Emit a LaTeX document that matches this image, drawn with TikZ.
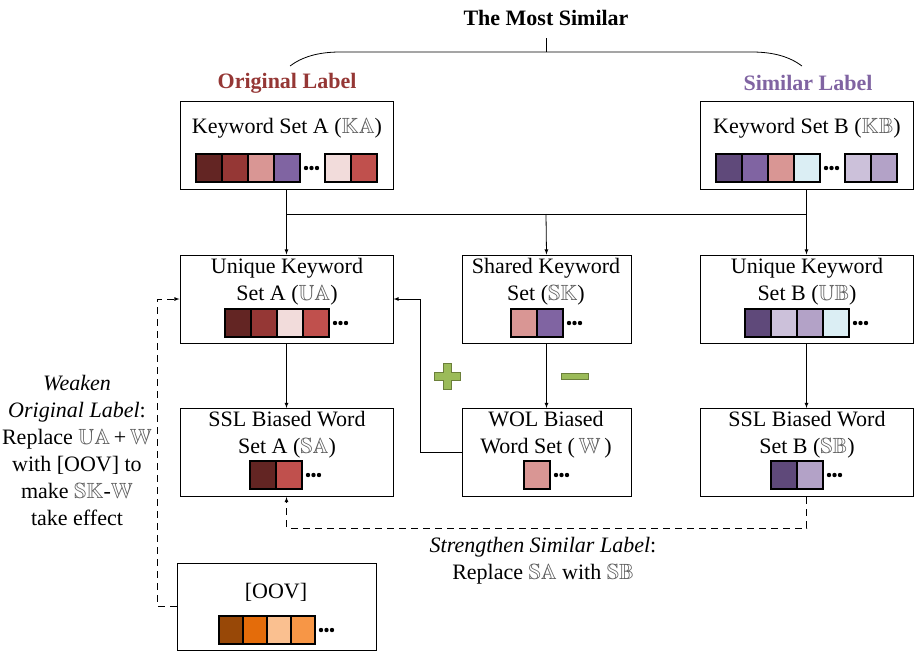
\documentclass[tikz,border=0pt]{standalone}
\usepackage{amssymb}
\usepackage{fontspec}
\setmainfont{Liberation Serif}
\usepackage{xcolor}
\usetikzlibrary{arrows}

\definecolor{redA}{HTML}{632523}
\definecolor{redB}{HTML}{953735}
\definecolor{redC}{HTML}{D99694}
\definecolor{redD}{HTML}{F2DCDB}
\definecolor{redE}{HTML}{C0504D}
\definecolor{purA}{HTML}{8064A2}
\definecolor{purB}{HTML}{CCC1DA}
\definecolor{purC}{HTML}{B3A2C7}
\definecolor{purD}{HTML}{5F497A}
\definecolor{blueA}{HTML}{DBEEF4}
\definecolor{orA}{HTML}{984807}
\definecolor{orB}{HTML}{E46C0A}
\definecolor{orC}{HTML}{FAC090}
\definecolor{orD}{HTML}{F79646}
\definecolor{greenP}{HTML}{9BBB59}
\definecolor{greenD}{HTML}{6B7F3A}

\newcommand{\bb}[1]{\textcolor{black!65}{$\mathbb{#1}$}}
% a row of coloured cells: [cell width]{x}{y top}{colours}
\newcommand{\cellrow}[4][26]{%
  \foreach \c [count=\i from 0] in {#4}
    \draw[cell, fill=\c] ({#2+\i*#1},#3) rectangle ++(#1,28);}
\newcommand{\moredots}[2]{%
  \foreach \k in {0,1,2}
    \fill ({#1+6+\k*5.5},{#2+14}) circle (2.2);}

\begin{document}
\begin{tikzpicture}[x=1pt,y=-1pt,>=latex,line width=0.8pt,
    font=\fontsize{22}{27}\selectfont,
    box/.style={draw,line width=1pt,minimum width=213pt,minimum height=88pt,inner sep=0},
    narrow/.style={box,minimum width=169pt},
    lbl/.style={align=center,inner sep=0},
    cell/.style={draw,line width=1.4pt},
    feedback/.style={->,dash pattern=on 7pt off 5pt}]
  \useasboundingbox (0,0) rectangle (916,651);

  % headings
  \node[font=\fontsize{22}{27}\selectfont\bfseries] (top) at (546,18) {The Most Similar};
  \node[font=\fontsize{22}{27}\selectfont\bfseries,text=redB] (orig) at (287,83) {Original Label};
  \node[font=\fontsize{22}{27}\selectfont\bfseries,text=purA] (simi) at (808,83) {Similar Label};
  \coordinate (brace) at (546,52);
  \draw (546,38) -- (brace);
  \draw (290,66) .. controls (302,57) and (318,52) .. (340,52) -- (752,52)
        .. controls (774,52) and (790,57) .. (802,66);

  % boxes
  \node[box] (ka) at (286.5,145.5) {};
  \node[box] (kb) at (806.5,145.5) {};
  \node[box] (ua) at (286.5,299) {};
  \node[narrow] (sk) at (546.5,299) {};
  \node[box] (ub) at (806.5,299) {};
  \node[box] (sa) at (286.5,452.5) {};
  \node[narrow] (w) at (546.5,452.5) {};
  \node[box] (sb) at (806.5,452.5) {};
  \node[box,minimum width=199pt,minimum height=87pt] (oov) at (276.5,606.5) {};

  % box texts
  \node[lbl] (ka-t) at (287,128) {Keyword Set A (\bb{KA})};
  \node[lbl] (kb-t) at (807,128) {Keyword Set B (\bb{KB})};
  \node[lbl] (ua-t) at (287,282) {Unique Keyword\\Set A (\bb{UA})};
  \node[lbl] (sk-t) at (546,282) {Shared Keyword\\Set (\bb{SK})};
  \node[lbl] (ub-t) at (807,282) {Unique Keyword\\Set B (\bb{UB})};
  \node[lbl] (sa-t) at (287,435) {SSL Biased Word\\Set A (\bb{SA})};
  \node[lbl] (w-t) at (546,435) {WOL Biased\\Word Set (\,\bb{W}\,)};
  \node[lbl] (sb-t) at (807,435) {SSL Biased Word\\Set B (\bb{SB})};
  \node[lbl] (oov-t) at (276,592) {[OOV]};

  % cells
  \cellrow{196}{154}{redA,redB,redC,purA} \moredots{300}{154}
  \cellrow{325}{154}{redD,redE}
  \cellrow{716}{154}{purD,purA,redC,blueA} \moredots{820}{154}
  \cellrow{845}{154}{purB,purC}
  \cellrow{225}{309}{redA,redB,redD,redE} \moredots{329}{309}
  \cellrow{511}{309}{redC,purA} \moredots{563}{309}
  \cellrow{745}{309}{purD,purB,purC,blueA} \moredots{849}{309}
  \cellrow{250}{461}{redA,redE} \moredots{302}{461}
  \cellrow{524}{461}{redC} \moredots{550}{461}
  \cellrow{771}{461}{purD,purC} \moredots{823}{461}
  \cellrow[24]{219}{616}{orA,orB,orC,orD} \moredots{315}{616}

  % connectors
  \coordinate (j) at (546,214);
  \draw (ka.south) -- (ka.south |- j) -- (kb.south |- j) -- (kb.south);
  \draw[->] (ka.south |- j) -- (ua.north);
  \draw[->] (j) -- (sk.north);
  \draw[->] (kb.south |- j) -- (ub.north);
  \draw[->] (ua) -- (sa);
  \draw[->] (sk) -- (w);
  \draw[->] (ub) -- (sb);
  \draw[->] (w.west) -- ++(-41,0) |- (ua.east);
  \draw[feedback] (sb.south) -- ++(0,31) -| (sa.south);
  \draw[feedback] (oov.west) -- ++(-19,0) |- (ua.west);

  % plus and minus
  \draw[greenD,fill=greenP,line width=0.6pt] (443,363) -- (451,363) -- (451,372) -- (460,372)
    -- (460,380) -- (451,380) -- (451,389) -- (443,389) -- (443,380) -- (434,380)
    -- (434,372) -- (443,372) -- cycle;
  \draw[greenD,fill=greenP,line width=0.6pt] (561,373) rectangle (588,379);

  % side notes
  \node[lbl] (weak) at (77,450) {\textit{Weaken}\\\textit{Original Label}:\\Replace \bb{UA}\,+\,\bb{W}\\with [OOV] to\\make \bb{SK}-\bb{W}\\take effect};
  \node[lbl] (strong) at (543,561) {\textit{Strengthen Similar Label}:\\Replace \bb{SA} with \bb{SB}};
\end{tikzpicture}
\end{document}
